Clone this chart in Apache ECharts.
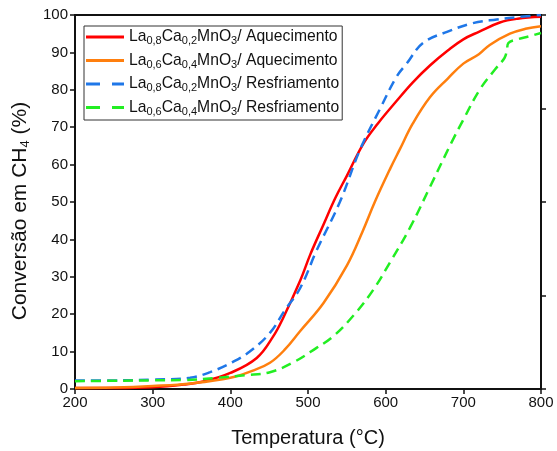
<!DOCTYPE html>
<html>
<head>
<meta charset="utf-8">
<script src="https://cdn.jsdelivr.net/npm/echarts@6/dist/echarts.min.js"></script>
<style>
  html, body { margin: 0; padding: 0; background: #fff; }
  #chart { width: 557px; height: 451px; }
</style>
</head>
<body>
<div id="chart"></div>
<script>
// La0,8Ca0,2MnO3 - aquecimento
var redT = [200, 250, 300, 340, 365, 400, 434, 455, 468, 490, 503, 520, 535, 550, 571, 590, 614, 635, 657, 680, 700, 720, 747, 770, 800];
var redV = [0.3, 0.3, 0.5, 1.2, 2, 4.3, 8.3, 14, 19, 29, 36, 44, 51, 57, 65.5, 71, 77, 82, 86.5, 90.5, 93.5, 95.5, 98, 99, 99.5];
// La0,6Ca0,4MnO3 - aquecimento
var orangeT = [200, 250, 300, 350, 400, 430, 451, 470, 490, 520, 550, 570, 586, 606, 618, 635, 657, 680, 700, 720, 734, 760, 780, 800];
var orangeV = [0.3, 0.4, 0.8, 1.5, 3, 5, 7, 10.5, 15.5, 23, 33, 42, 50, 59, 64, 71, 78, 83, 87, 89.5, 92, 95, 96.3, 97];
// La0,8Ca0,2MnO3 - resfriamento
var blueT = [200, 250, 300, 348, 374, 403, 425, 451, 470, 490, 511, 541, 567, 593, 614, 627, 648, 679, 712, 743, 773, 800];
var blueV = [2.3, 2.3, 2.5, 3, 4.5, 7.2, 10, 15, 21, 27, 37, 50, 64, 75, 83.5, 87, 92.5, 95.5, 97.8, 98.8, 99.5, 100];
// La0,6Ca0,4MnO3 - resfriamento
var greenT = [200, 250, 300, 340, 383, 420, 451, 480, 511, 532, 560, 584, 606, 631, 657, 685, 700, 721, 741, 753, 756, 758, 770, 785, 800];
var greenV = [2.1, 2.2, 2.3, 2.4, 3, 3.7, 4.5, 7, 11, 14, 20, 26.5, 34, 43, 54, 66, 72, 80, 85.5, 88.5, 90.5, 92.5, 93.5, 94.3, 95.2];

var xTicks = [200, 300, 400, 500, 600, 700, 800];
var yTicks = [0, 10, 20, 30, 40, 50, 60, 70, 80, 90, 100];

var names = ['La08_aq', 'La06_aq', 'La08_re', 'La06_re'];
var legendText = {
  'La08_aq': '{n|La}{s|0,8}{n|Ca}{s|0,2}{n|MnO}{s|3}{n|/ Aquecimento}',
  'La06_aq': '{n|La}{s|0,6}{n|Ca}{s|0,4}{n|MnO}{s|3}{n|/ Aquecimento}',
  'La08_re': '{n|La}{s|0,8}{n|Ca}{s|0,2}{n|MnO}{s|3}{n|/ Resfriamento}',
  'La06_re': '{n|La}{s|0,6}{n|Ca}{s|0,4}{n|MnO}{s|3}{n|/ Resfriamento}'
};
var solidIcon = 'path://M0,0H38V3H0Z';
var dashIcon = 'path://M0,0H14V3H0Z M26,0H38V3H26Z';

function pairs(t, v) {
  return t.map(function (x, i) { return [x, v[i]]; });
}

var font = 'Liberation Sans, Arial, sans-serif';
var myCharts = echarts.init(document.getElementById('chart'), null, { renderer: 'canvas' });

function lineSeries(name, t, v, color, dashed) {
  return {
    name: name,
    type: 'line',
    data: pairs(t, v),
    symbol: 'none',
    showSymbol: false,
    smooth: 0.4,
    lineStyle: { color: color, width: 2.5, type: dashed ? [10, 6] : 'solid' },
    itemStyle: { color: color }
  };
}

var option = {
  backgroundColor: '#fff',
  animation: false,
  grid: { left: 75, right: 16, top: 15, bottom: 62, outerBoundsMode: 'none' },
  legend: {
    data: [
      { name: names[0], icon: solidIcon },
      { name: names[1], icon: solidIcon },
      { name: names[2], icon: dashIcon },
      { name: names[3], icon: dashIcon }
    ],
    left: 84,
    top: 26,
    orient: 'vertical',
    itemWidth: 38,
    itemHeight: 3,
    itemGap: 6,
    padding: [3, 3, 3, 2],
    borderColor: '#333',
    borderWidth: 1,
    backgroundColor: '#fff',
    formatter: function (n) { return legendText[n]; },
    textStyle: {
      fontFamily: font,
      rich: {
        n: { fontSize: 15.7, color: '#111', fontFamily: font },
        s: { fontSize: 11, color: '#111', fontFamily: font, verticalAlign: 'bottom', padding: [8, 0, 0, 0] }
      }
    }
  },
  xAxis: [{
    type: 'value',
    min: 200,
    max: 800,
    interval: 100,
    name: 'Temperatura (°C)',
    nameLocation: 'middle',
    nameGap: 39,
    nameTextStyle: { fontFamily: font, fontSize: 20, color: '#111' },
    axisLine: { onZero: false, lineStyle: { color: '#111', width: 2 } },
    axisTick: { show: true, length: 5, lineStyle: { color: '#111', width: 1.5 } },
    axisLabel: {
      fontFamily: font, fontSize: 15, color: '#111', margin: 6,
      customValues: xTicks
    },
    splitLine: { show: false }
  }, {
    type: 'value',
    position: 'top',
    min: 200,
    max: 800,
    axisLine: { onZero: false, lineStyle: { color: '#111', width: 2 } },
    axisTick: { show: false },
    axisLabel: { show: false },
    splitLine: { show: false }
  }],
  yAxis: [{
    type: 'value',
    min: 0,
    max: 100,
    interval: 10,
    name: '{n|Conversão em CH}{s|4}{n| (%)}',
    nameLocation: 'middle',
    nameRotate: 90,
    nameGap: 39,
    nameTextStyle: {
      fontFamily: font,
      padding: [0, 18, 0, 0],
      rich: {
        n: { fontSize: 21, color: '#111', fontFamily: font },
        s: { fontSize: 13, color: '#111', fontFamily: font, verticalAlign: 'bottom', padding: [10, 0, 0, 0] }
      }
    },
    axisLine: { onZero: false, lineStyle: { color: '#111', width: 2 } },
    axisTick: { show: true, length: 5, lineStyle: { color: '#111', width: 1.5 } },
    axisLabel: {
      fontFamily: font, fontSize: 15, color: '#111', margin: 7,
      customValues: yTicks
    },
    splitLine: { show: false }
  }, {
    type: 'value',
    position: 'right',
    min: 0,
    max: 100,
    interval: 25,
    axisLine: { show: true, onZero: false, lineStyle: { color: '#111', width: 2 } },
    axisTick: { show: true, length: 5, lineStyle: { color: '#111', width: 1.5 } },
    axisLabel: { show: false },
    splitLine: { show: false }
  }],
  series: [
    lineSeries(names[0], redT, redV, '#ff0000', false),
    lineSeries(names[1], orangeT, orangeV, '#ff7f0e', false),
    lineSeries(names[2], blueT, blueV, '#1f77e8', true),
    lineSeries(names[3], greenT, greenV, '#22ee22', true)
  ]
};
myCharts.setOption(option);
</script>
</body>
</html>
